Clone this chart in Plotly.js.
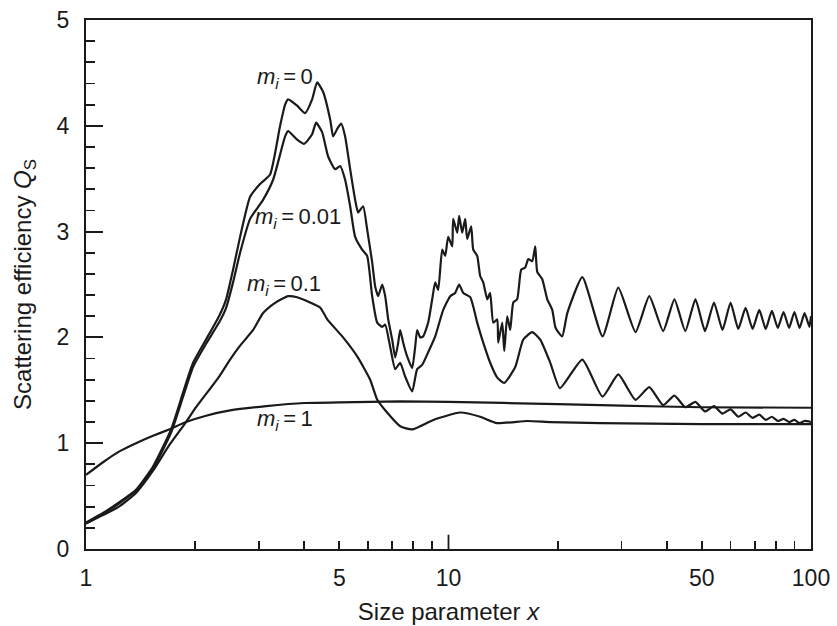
<!DOCTYPE html>
<html><head><meta charset="utf-8">
<script src="https://cdn.plot.ly/plotly-3.0.1.min.js"></script>
<style>html,body{margin:0;padding:0;background:#fff}#chart{width:837px;height:626px}</style>
</head><body><div id="chart"></div>
<script>
// ---- data ----
const x_m0 = [1,1.114,1.233,1.374,1.531, 1.717,1.853,1.974,2.144,2.328, 2.435,2.545,2.661,2.836,3.021,
  3.22,3.431,3.542,3.61,3.823, 4.022,4.205,4.341,4.51,4.716, 4.806,4.93,5.056,5.186,5.354,
  5.527,5.633,5.815,5.965,6.158, 6.277,6.397,6.562,6.689,6.818, 6.993,7.128,7.265,7.357,7.499,
  7.691,7.939,8.092,8.195,8.353, 8.514,8.79,9.016,9.191,9.367, 9.607,9.792,9.98,10.24,10.30,
  10.57,10.70,10.91,11.12,11.26, 11.55,11.70,12.00,12.23,12.47, 12.79,13.03,13.29,13.63,13.71,
  14.07,14.25,14.52,14.80,15.09, 15.47,15.87,16.28,16.60,17.02, 17.35,17.57,18.14,18.73,19.33,
  19.70,20.08,20.60,21.27,
  23.4,26.6,29.4,32.8,35.8, 39.1,42,45,48,51, 54,57,60,63,66, 69,72,75,78,81, 84,87,90,93,96, 99,100];
const y_m0 = [0.25,0.34,0.44,0.56,0.78, 1.13,1.48,1.76,1.98,2.20, 2.36,2.64,2.95,3.33,3.45,
  3.54,4.00,4.20,4.25,4.19, 4.12,4.25,4.41,4.32,4.06, 3.90,3.97,4.02,3.90,3.59,
  3.30,3.18,3.24,3.02,2.71, 2.48,2.39,2.50,2.39,2.17, 1.98,1.81,1.95,2.07,1.95,
  1.82,1.71,1.91,2.07,2.00, 2.01,2.14,2.36,2.52,2.45, 2.83,2.77,2.95,2.86,3.12,
  2.99,3.15,2.99,3.12,2.93, 3.05,2.83,2.77,2.58,2.52, 2.36,2.42,2.14,2.17,1.95,
  2.14,1.87,2.20,2.07,2.33, 2.36,2.64,2.66,2.74,2.72, 2.86,2.62,2.55,2.36,2.26,
  2.10,2.05,2.01,2.23,
  2.57,2.01,2.47,2.05,2.39, 2.06,2.36,2.06,2.36,2.06, 2.33,2.07,2.33,2.08,2.28, 2.08,2.26,2.08,2.25,2.09, 2.24,2.09,2.24,2.09,2.23, 2.10,2.20];

const x_m001 = [1,1.114,1.233,1.374,1.531, 1.717,1.853,1.974,2.144,2.328, 2.435,2.545,2.661,2.836,3.079,
  3.282,3.542,3.61,3.823,3.997, 4.205,4.313,4.481,4.656,4.867, 5.024,5.186,5.354,5.527,5.778,
  5.965,6.158,6.357,6.562,6.689, 6.905,7.128,7.357,7.594,7.939, 8.195,8.46,8.79,9.191,9.67,
  10.11,10.43,10.70,10.98,11.48, 12.00,12.47,13.03,13.63,14.25, 15.28,16.08,17.02,17.91,19.09,
  20.3,23.4,26.6,29.4,32.8, 35.8,39.1,42,45,48, 51,54,57,60,63, 66,69,72,75,78, 81,84,87,90,93, 96,100];
const y_m001 = [0.24,0.33,0.43,0.55,0.76, 1.10,1.44,1.72,1.94,2.14, 2.28,2.52,2.80,3.12,3.30,
  3.49,3.90,3.95,3.87,3.83, 3.92,4.03,3.94,3.71,3.59, 3.62,3.49,3.24,2.95,2.83,
  2.77,2.39,2.14,2.10,2.12, 1.91,1.70,1.76,1.63,1.49, 1.70,1.74,1.86,2.01,2.26,
  2.39,2.42,2.50,2.42,2.38, 2.14,1.95,1.76,1.62,1.57, 1.72,1.98,2.05,1.98,1.76,
  1.52,1.79,1.44,1.65,1.41, 1.53,1.36,1.45,1.34,1.39, 1.30,1.35,1.28,1.32,1.25, 1.29,1.24,1.27,1.22,1.25, 1.21,1.23,1.20,1.22,1.19, 1.21,1.20];

const x_m01 = [1,1.114,1.233,1.374,1.531, 1.695,1.888,2.012,2.33,2.497, 2.645,2.891,3.08,3.30,3.50,
  3.61,3.823,4.15,4.43,4.63, 5.12,5.60,6.08,6.36,6.77, 7.36,7.94,9.08,10.77,12.23, 13.6,16.5,19.1,26.2,50, 100];
const y_m01 = [0.24,0.32,0.40,0.53,0.74, 0.98,1.20,1.34,1.63,1.79, 1.91,2.07,2.23,2.32,2.37,
  2.39,2.38,2.33,2.28,2.17, 2.00,1.82,1.60,1.41,1.29, 1.16,1.13,1.22,1.29,1.25, 1.19,1.21,1.20,1.19,1.18, 1.18];

const x_m1 = [1,1.114,1.233,1.374,1.531, 1.695,1.888,2.144,2.497,3.14, 4,5,7.36,10,20, 30,50,100];
const y_m1 = [0.70,0.82,0.92,1.00,1.07, 1.13,1.20,1.26,1.31,1.35, 1.38,1.385,1.395,1.39,1.37, 1.355,1.34,1.335];

const seriesLabels = ['<i>m<sub>i</sub></i>\u2009=\u20090', '<i>m<sub>i</sub></i>\u2009=\u20090.01', '<i>m<sub>i</sub></i>\u2009=\u20090.1', '<i>m<sub>i</sub></i>\u2009=\u20091'];

const xTickVals = [1,5,10,50,100];
const xTickText = ['1','5','10','50','100'];
const xMinorVals = [2,3,4,6,7,8,9,20,30,40,60,70,80,90];
const yTickVals = [0,1,2,3,4,5];
const yMinorVals = [0.2,0.4,0.6,0.8,1.2,1.4,1.6,1.8,2.2,2.4,2.6,2.8,3.2,3.4,3.6,3.8,4.2,4.4,4.6,4.8];

// ---- chart ----
const ink = '#1a1a1a';
const mkLine = () => ({color: ink, width: 2.2, shape: 'spline', smoothing: 0.5});
const series = [[x_m0,y_m0],[x_m001,y_m001],[x_m01,y_m01],[x_m1,y_m1]];
const traces = series.map((s, i) => ({x: s[0], y: s[1], type: 'scatter', mode: 'lines', line: mkLine(), name: seriesLabels[i], hoverinfo: 'skip'}));

const labelPos = [[0.274,0.890],[0.293,0.626],[0.273,0.499],[0.274,0.244]];
const annotations = seriesLabels.map((t, i) => ({
  text: t, xref: 'paper', yref: 'paper', x: labelPos[i][0], y: labelPos[i][1],
  showarrow: false, xanchor: 'center', yanchor: 'middle',
  font: {family: 'Liberation Sans, Arial, sans-serif', size: 22, color: ink}
}));

const layout = {
  width: 837, height: 626,
  margin: {l: 86, r: 26, t: 20, b: 77},
  paper_bgcolor: '#fff', plot_bgcolor: '#fff',
  showlegend: false,
  font: {family: 'Liberation Sans, Arial, sans-serif', color: ink},
  xaxis: {
    type: 'log', range: [0, 2],
    showline: true, linewidth: 2.2, linecolor: ink, mirror: true,
    showgrid: false, zeroline: false,
    ticks: 'inside', tickmode: 'array', tickvals: xTickVals, ticktext: xTickText,
    ticklen: 8, tickwidth: 1.8, tickcolor: ink,
    tickfont: {size: 23, color: ink}, ticklabelstandoff: 7,
    minor: {tickmode: 'array', tickvals: xMinorVals, ticks: 'inside', ticklen: 8, tickwidth: 1.8, tickcolor: ink, showgrid: false},
    title: {text: 'Size parameter <i>x</i>', font: {size: 24, color: ink}, standoff: 14}
  },
  yaxis: {
    range: [0, 5],
    showline: true, linewidth: 2.2, linecolor: ink, mirror: true,
    showgrid: false, zeroline: false,
    ticks: 'inside', tickmode: 'array', tickvals: yTickVals,
    ticklen: 17, tickwidth: 1.8, tickcolor: ink,
    tickfont: {size: 23, color: ink}, ticklabelstandoff: 10,
    minor: {tickmode: 'array', tickvals: yMinorVals, ticks: 'inside', ticklen: 9, tickwidth: 1.8, tickcolor: ink, showgrid: false},
    title: {text: 'Scattering efficiency <i>Q</i><sub>S</sub>', font: {size: 24, color: ink}, standoff: 18}
  },
  shapes: [{type: 'line', xref: 'x', yref: 'paper', x0: 10, x1: 10, y0: 0, y1: 0.027, line: {color: ink, width: 1.8}}],
  annotations: annotations
};

Plotly.newPlot('chart', traces, layout, {staticPlot: true});
</script>
</body></html>
